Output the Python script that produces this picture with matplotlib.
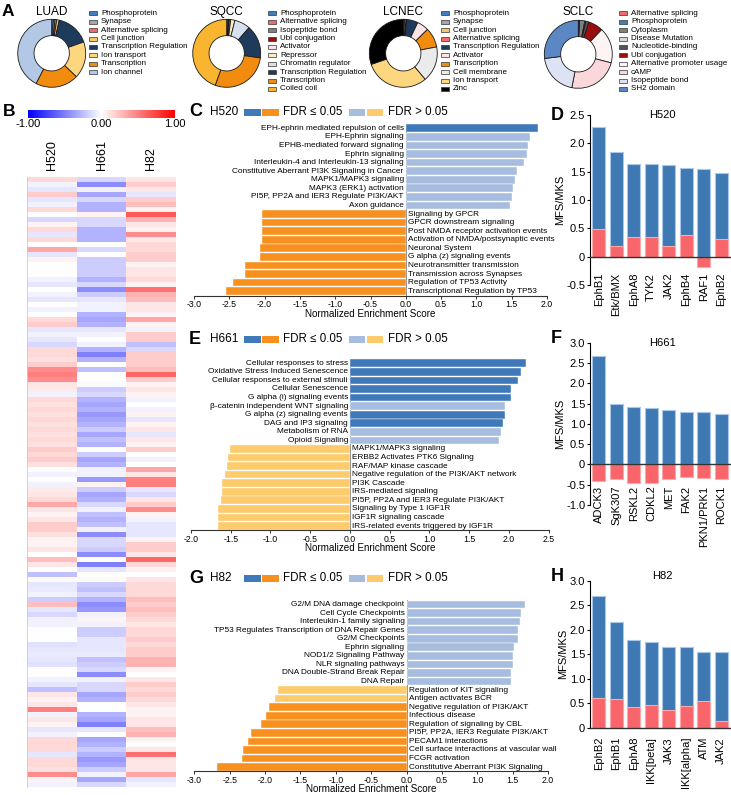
import matplotlib
matplotlib.use('Agg')
import matplotlib.pyplot as plt
import numpy as np
from matplotlib.colors import LinearSegmentedColormap
from matplotlib.patches import Rectangle

plt.rcParams['font.family'] = ['Liberation Sans', 'DejaVu Sans']
plt.rcParams['axes.unicode_minus'] = False

# ---------------- DATA ----------------
luad_labels = ['Phosphoprotein', 'Synapse', 'Alternative splicing', 'Cell junction',
               'Transcription Regulation', 'Ion transport', 'Transcription', 'Ion channel']
luad_values = [0.8, 0.8, 0.8, 1.2, 16.0, 17.5, 20.5, 42.4]
luad_colors = ['#3F7FBF', '#A6A6A6', '#F26B6B', '#F9C56B', '#1F3B5C', '#FCD77F', '#F28C0F', '#B3C8E4']

sqcc_labels = ['Phosphoprotein', 'Alternative splicing', 'Isopeptide bond', 'Ubl conjugation',
               'Activator', 'Repressor', 'Chromatin regulator', 'Transcription Regulation',
               'Transcription', 'Coiled coil']
sqcc_values = [0.3, 0.6, 0.2, 0.2, 0.6, 2.0, 7.5, 15.8, 28.3, 44.5]
sqcc_colors = ['#3F7FBF', '#F26B6B', '#7F7F7F', '#9B0E0E', '#FCE4E4', '#FCEBC5', '#D6E0EF',
               '#1F3B5C', '#F28C0F', '#F9B52F']

lcnec_labels = ['Phosphoprotein', 'Synapse', 'Cell junction', 'Alternative splicing',
                'Transcription Regulation', 'Activator', 'Transcription', 'Cell membrane',
                'Ion transport', 'Zinc']
lcnec_values = [0.3, 0.3, 0.7, 0.3, 5.4, 5.6, 9.4, 16.9, 30.8, 30.3]
lcnec_colors = ['#3F7FBF', '#A6A6A6', '#F9C56B', '#F26B6B', '#1F3B5C', '#FCE4E4', '#F28C0F',
                '#EBEBEB', '#FCD77F', '#000000']

sclc_labels = ['Alternative splicing', 'Phosphoprotein', 'Cytoplasm', 'Disease Mutation',
               'Nucleotide-binding', 'Ubl conjugation', 'Alternative promoter usage', 'cAMP',
               'Isopeptide bond', 'SH2 domain']
sclc_values = [0.3, 0.3, 2.5, 0.5, 1.5, 7.0, 17.0, 24.0, 20.0, 27.0]
sclc_colors = ['#F26B6B', '#3F7FBF', '#7F7F7F', '#D9D9D9', '#555555', '#9B0E0E', '#FFF4F4',
               '#F9D7DA', '#DDE3F4', '#5B87C5']

heat_cols = ['H520', 'H661', 'H82']
h520 = [0.15, -0.05, -0.1, 0.2, -0.1, -0.05, 0.15, 0.0, -0.15, 0.05,
        0.15, -0.1, 0.15, 0.0, 0.35, -0.1, 0.05, 0.0, 0.0, 0.0,
        -0.05, -0.1, 0.0, -0.05, -0.1, 0.0, -0.05, 0.0, 0.15, 0.2,
        -0.1, -0.05, -0.1, -0.15, 0.15, 0.15, 0.12, 0.2, 0.45, 0.5,
        0.45, 0.1, 0.08, -0.05, 0.15, 0.12, 0.15, 0.12, 0.15, 0.12,
        0.15, 0.12, 0.15, 0.12, 0.2, 0.15, 0.2, 0.12, 0.0, -0.05,
        0.0, -0.05, 0.08, 0.1, 0.15, 0.35, 0.1, 0.05, 0.1, 0.2,
        0.2, 0.12, 0.05, 0.05, 0.1, 0.0, 0.25, 0.1, 0.0, -0.25,
        0.02, -0.1, -0.08, -0.05, -0.2, 0.25, -0.1, -0.15, -0.05, -0.05,
        0.0, 0.0, 0.0, -0.12, -0.1, -0.08, -0.1, -0.12, 0.0, 0.0,
        -0.05, -0.1, -0.25, 0.1, 0.05, 0.1, 0.5, -0.05, 0.1, 0.05,
        -0.1, -0.05, 0.15, 0.15, 0.15, -0.1, 0.15, 0.15, 0.12, 0.45,
        0.05, -0.05]
h661 = [-0.15, -0.45, -0.05, -0.35, -0.15, -0.3, -0.3, 0.05, -0.15, -0.15,
        -0.3, -0.3, -0.3, 0.0, -0.15, 0.0, -0.2, -0.2, -0.2, -0.2,
        -0.3, -0.15, -0.45, -0.2, -0.1, -0.05, -0.05, -0.3, -0.35, -0.3,
        -0.1, -0.05, 0.0, -0.05, -0.3, -0.5, -0.3, 0.0, -0.25, 0.0,
        0.0, -0.02, -0.2, -0.15, -0.3, -0.35, -0.3, -0.4, -0.35, -0.3,
        -0.2, -0.35, -0.25, -0.3, 0.0, -0.2, -0.35, -0.3, -0.05, -0.05,
        -0.4, 0.05, -0.2, -0.35, -0.3, -0.15, -0.05, -0.25, -0.3, -0.25,
        -0.05, -0.45, -0.15, -0.15, -0.2, -0.45, 0.0, -0.5, -0.1, 0.0,
        0.02, -0.2, -0.25, -0.15, -0.3, -0.45, -0.4, -0.05, 0.05, -0.05,
        -0.2, -0.2, -0.1, -0.1, -0.1, -0.08, -0.25, -0.2, -0.15, -0.45,
        -0.05, -0.15, -0.15, -0.35, -0.3, 0.0, 0.0, -0.3, -0.35, -0.5,
        -0.1, 0.0, -0.35, -0.3, -0.2, -0.3, -0.4, -0.35, -0.2, -0.05,
        -0.35, -0.15]
h82 = [0.1, 0.2, 0.1, -0.1, 0.2, 0.25, 0.05, 0.65, 0.3, 0.1,
       0.05, 0.45, 0.1, 0.15, 0.15, 0.2, 0.2, 0.05, 0.1, 0.1,
       0.15, 0.05, 0.55, 0.3, 0.25, 0.1, 0.1, 0.05, 0.35, 0.05,
       -0.05, 0.2, 0.2, -0.25, -0.15, 0.2, 0.2, 0.2, 0.25, 0.6,
       0.2, 0.05, 0.1, 0.05, -0.05, 0.0, -0.05, 0.05, -0.1, 0.05,
       0.1, -0.1, 0.1, 0.05, 0.2, 0.0, -0.05, 0.0, 0.35, 0.1,
       0.5, 0.5, -0.1, -0.15, 0.1, 0.2, 0.45, 0.05, -0.05, -0.1,
       -0.1, -0.1, 0.05, 0.2, 0.2, 0.1, 0.6, 0.15, 0.05, 0.0,
       0.1, 0.15, 0.15, 0.15, 0.25, 0.2, 0.25, 0.2, 0.15, 0.1,
       0.15, 0.15, 0.2, 0.15, 0.2, 0.2, 0.3, 0.3, 0.05, 0.0,
       0.1, 0.2, 0.15, 0.2, 0.15, 0.1, 0.05, 0.05, 0.1, 0.1,
       0.25, 0.3, 0.05, 0.0, 0.1, 0.55, 0.1, 0.1, 0.1, 0.35,
       -0.1, -0.05]

c_terms = ['EPH-ephrin mediated repulsion of cells', 'EPH-Ephrin signaling',
           'EPHB-mediated forward signaling', 'Ephrin signaling',
           'Interleukin-4 and Interleukin-13 signaling',
           'Constitutive Aberrant PI3K Signaling in Cancer', 'MAPK1/MAPK3 signaling',
           'MAPK3 (ERK1) activation', 'PI5P, PP2A and IER3 Regulate PI3K/AKT', 'Axon guidance',
           'Signaling by GPCR', 'GPCR downstream signaling', 'Post NMDA receptor activation events',
           'Activation of NMDA/postsynaptic events', 'Neuronal System',
           'G alpha (z) signaling events', 'Neurotransmitter transmission',
           'Transmission across Synapses', 'Regulation of TP53 Activity',
           'Transcriptional Regulation by TP53']
c_nes = [1.87, 1.76, 1.73, 1.72, 1.68, 1.57, 1.55, 1.52, 1.51, 1.47,
         -2.03, -2.03, -2.04, -2.04, -2.07, -2.07, -2.28, -2.28, -2.45, -2.54]
c_sig = [1, 0, 0, 0, 0, 0, 0, 0, 0, 0, 1, 1, 1, 1, 1, 1, 1, 1, 1, 1]

e_terms = ['Cellular responses to stress', 'Oxidative Stress Induced Senescence',
           'Cellular responses to external stimuli', 'Cellular Senescence',
           'G alpha (i) signaling events', 'β-catenin independent WNT signaling',
           'G alpha (z) signaling events', 'DAG and IP3 signaling', 'Metabolism of RNA',
           'Opioid Signaling', 'MAPK1/MAPK3 signaling', 'ERBB2 Activates PTK6 Signaling',
           'RAF/MAP kinase cascade', 'Negative regulation of the PI3K/AKT network',
           'PI3K Cascade', 'IRS-mediated signaling', 'PI5P, PP2A and IER3 Regulate PI3K/AKT',
           'Signaling by Type 1 IGF1R', 'IGF1R signaling cascade',
           'IRS-related events triggered by IGF1R']
e_nes = [2.21, 2.15, 2.11, 2.02, 2.02, 1.95, 1.95, 1.92, 1.90, 1.88,
         -1.51, -1.53, -1.55, -1.57, -1.61, -1.61, -1.62, -1.66, -1.66, -1.66]
e_sig = [1, 1, 1, 1, 1, 0, 1, 1, 0, 0, 0, 0, 0, 0, 0, 0, 0, 0, 0, 0]

g_terms = ['G2/M DNA damage checkpoint', 'Cell Cycle Checkpoints',
           'Interleukin-1 family signaling', 'TP53 Regulates Transcription of DNA Repair Genes',
           'G2/M Checkpoints', 'Ephrin signaling', 'NOD1/2 Signaling Pathway',
           'NLR signaling pathways', 'DNA Double-Strand Break Repair', 'DNA Repair',
           'Regulation of KIT signaling', 'Antigen activates BCR',
           'Negative regulation of PI3K/AKT', 'Infectious disease',
           'Regulation of signaling by CBL', 'PI5P, PP2A, IER3 Regulate PI3K/AKT',
           'PECAM1 interactions', 'Cell surface interactions at vascular wall',
           'FCGR activation', 'Constitutive Aberrant PI3K Signaling']
g_nes = [1.67, 1.62, 1.60, 1.58, 1.57, 1.52, 1.50, 1.50, 1.48, 1.47,
         -1.81, -1.86, -1.94, -1.98, -2.06, -2.20, -2.24, -2.31, -2.33, -2.68]
g_sig = [0, 0, 0, 0, 0, 0, 0, 0, 0, 0, 0, 0, 1, 1, 1, 1, 1, 1, 1, 1]

d_kinases = ['EphB1', 'Etk/BMX', 'EphA8', 'TYK2', 'JAK2', 'EphB4', 'RAF1', 'EphB2']
d_mfs = [2.28, 1.84, 1.63, 1.63, 1.61, 1.57, 1.54, 1.47]
d_mks = [0.49, 0.19, 0.35, 0.35, 0.19, 0.38, -0.19, 0.32]

f_kinases = ['ADCK3', 'SgK307', 'RSKL2', 'CDKL2', 'MET', 'FAK2', 'PKN1/PRK1', 'ROCK1']
f_mfs = [2.67, 1.48, 1.42, 1.39, 1.35, 1.29, 1.28, 1.24]
f_mks = [-0.42, -0.35, -0.46, -0.45, -0.35, -0.32, -0.34, -0.36]

h_kinases = ['EphB2', 'EphB1', 'EphA8', 'IKK[beta]', 'JAK3', 'IKK[alpha]', 'ATM', 'JAK2']
h_mfs = [2.69, 2.15, 1.79, 1.75, 1.64, 1.64, 1.55, 1.54]
h_mks = [0.62, 0.59, 0.42, 0.47, 0.36, 0.45, 0.54, 0.15]

# ---------------- LAYOUT ----------------
W, H = 731, 795
fig = plt.figure(figsize=(W / 100, H / 100), dpi=100)


def fx(x):
    return x / W


def fy(y):
    return 1 - y / H


def add_ax(x0, y0, x1, y1):
    return fig.add_axes([x0 / W, 1 - y1 / H, (x1 - x0) / W, (y1 - y0) / H])


def letter(x, y, s, size=13):
    fig.text(fx(x), fy(y), s, fontsize=size, fontweight='bold', ha='left', va='center')


# ---------------- Panel A: donuts ----------------
def donut(cx, cy, r, title, labels, values, colors, legend_x):
    ax = add_ax(cx - r, cy - r, cx + r, cy + r)
    ax.pie(values, colors=colors, startangle=90, counterclock=False, radius=1.0,
           wedgeprops=dict(width=0.48, edgecolor='#1a1a1a', linewidth=0.6))
    ax.set_xlim(-1.03, 1.03)
    ax.set_ylim(-1.03, 1.03)
    fig.text(fx(cx), fy(12), title, ha='center', va='center', fontsize=8.5)
    for i, (lab, col) in enumerate(zip(labels, colors)):
        yy = 13.3 + 8.4 * i
        fig.add_artist(Rectangle((fx(legend_x), fy(yy + 2)), 8 / W, 4 / H,
                                 transform=fig.transFigure, facecolor=col,
                                 edgecolor='#333333', lw=0.5))
        fig.text(fx(legend_x + 12), fy(yy), lab, ha='left', va='center', fontsize=5.8)


letter(2, 11, 'A', 12.5)
donut(51.7, 53.3, 35, 'LUAD', luad_labels, luad_values, luad_colors, 89)
donut(226.7, 53.3, 35, 'SQCC', sqcc_labels, sqcc_values, sqcc_colors, 268)
donut(403.3, 53.3, 35, 'LCNEC', lcnec_labels, lcnec_values, lcnec_colors, 441)
donut(578.3, 54.3, 35, 'SCLC', sclc_labels, sclc_values, sclc_colors, 619)

# ---------------- Panel B: heatmap ----------------
cmap = LinearSegmentedColormap.from_list('bwr_custom', ['#0000FF', '#FFFFFF', '#FF0000'])
letter(3, 112, 'B', 12.5)
cax = add_ax(28, 110, 175, 118)
grad = np.linspace(-1, 1, 256).reshape(1, -1)
cax.imshow(grad, cmap=cmap, aspect='auto', extent=[-1, 1, 0, 1])
cax.set_xticks([-1, 0, 1])
cax.set_xticklabels(['-1.00', '0.00', '1.00'], fontsize=8)
cax.set_yticks([])
cax.tick_params(axis='x', length=0, pad=1)
for s in cax.spines.values():
    s.set_visible(False)

hx0, hx1 = 27, 176
for j, name in enumerate(heat_cols):
    cxp = hx0 + (hx1 - hx0) * (j + 0.5) / 3
    fig.text(fx(cxp), fy(170), name, rotation=90, ha='center', va='bottom', fontsize=9)

hax = add_ax(hx0, 177, hx1, 787)
mat = np.array([h520, h661, h82]).T
hax.imshow(mat, cmap=cmap, vmin=-1, vmax=1, aspect='auto', interpolation='nearest')
hax.set_xticks([])
hax.set_yticks([])
for k, s in hax.spines.items():
    s.set_visible(k == 'left')
hax.spines['left'].set_color('#cccccc')
hax.spines['left'].set_linewidth(0.6)

# ---------------- GSEA panels ----------------
DARK_BLUE = '#4079BA'
LIGHT_BLUE = '#A7BDDF'
ORANGE = '#F7901E'
LIGHT_ORANGE = '#FDCA6C'


def gsea_header(yc, let, cell):
    letter(189, yc, let, 13)
    fig.text(fx(210), fy(yc), cell, fontsize=8.5, ha='left', va='center')
    for (x0, x1, c) in [(244, 261, DARK_BLUE), (262, 279, ORANGE),
                        (349, 365, LIGHT_BLUE), (367, 383, LIGHT_ORANGE)]:
        fig.add_artist(Rectangle((fx(x0), fy(yc + 3.5)), (x1 - x0) / W, 7 / H,
                                 transform=fig.transFigure, facecolor=c, edgecolor='none'))
    fig.text(fx(283), fy(yc), 'FDR ≤ 0.05', fontsize=8.3, ha='left', va='center')
    fig.text(fx(388), fy(yc), 'FDR > 0.05', fontsize=8.3, ha='left', va='center')


def gsea(ax, terms, nes, sig, xmin, xmax):
    n = len(nes)
    y = np.arange(n)
    cols = []
    for v, s in zip(nes, sig):
        if v > 0:
            cols.append(DARK_BLUE if s else LIGHT_BLUE)
        else:
            cols.append(ORANGE if s else LIGHT_ORANGE)
    ax.barh(y, nes, height=0.9, color=cols, edgecolor='white', linewidth=0.3, zorder=2)
    ax.set_ylim(n - 0.5, -0.5)
    ax.set_xlim(xmin, xmax)
    for yi, v, t in zip(y, nes, terms):
        if v > 0:
            ax.annotate(t, (0, yi), xytext=(-1.5, 0), textcoords='offset points',
                        ha='right', va='center', fontsize=5.95, zorder=3)
        else:
            ax.annotate(t, (0, yi), xytext=(1.5, 0), textcoords='offset points',
                        ha='left', va='center', fontsize=5.95, zorder=3)
    ax.spines['top'].set_visible(False)
    ax.spines['right'].set_visible(False)
    ax.spines['left'].set_position(('data', 0))
    ax.spines['left'].set_color('#666666')
    ax.spines['left'].set_linewidth(0.6)
    ax.spines['left'].set_zorder(1)
    ax.spines['bottom'].set_linewidth(0.8)
    ax.spines['bottom'].set_color('#333333')
    ax.tick_params(axis='y', left=False, labelleft=False)
    ticks = np.arange(xmin, xmax + 0.001, 0.5)
    ax.set_xticks(ticks)
    ax.set_xticklabels(['%.1f' % t for t in ticks], fontsize=6.3)
    ax.tick_params(axis='x', length=2.5, width=0.7, pad=1, color='#333333')
    ax.set_xlabel('Normalized Enrichment Score', fontsize=7.1, labelpad=-0.5)
    ax.patch.set_alpha(0)


gsea_header(112, 'C', 'H520')
axc = add_ax(194, 124, 547, 295.5)
gsea(axc, c_terms, c_nes, c_sig, -3.0, 2.0)

gsea_header(339.3, 'E', 'H661')
axe = add_ax(191, 359, 548.7, 530.3)
gsea(axe, e_terms, e_nes, e_sig, -2.0, 2.5)

gsea_header(578.3, 'G', 'H82')
axg = add_ax(194.3, 600.2, 548, 771.3)
gsea(axg, g_terms, g_nes, g_sig, -3.0, 2.0)

# ---------------- Kinase panels ----------------
BAR_BLUE = '#3F79B4'
BAR_RED = '#F8666B'


def kin(ax, names, mfs, mks, ylo, yhi, title, label_pad_px, title_y=1.0):
    x = np.arange(len(names))
    ax.bar(x, mfs, width=0.76, color=BAR_BLUE, edgecolor='#A9C7E8', linewidth=0.8, zorder=2)
    ax.bar(x, mks, width=0.76, color=BAR_RED, edgecolor='#FBA9AB', linewidth=0.8, zorder=3)
    ax.set_xlim(-0.5, 7.5)
    ax.set_ylim(ylo, yhi)
    ticks = np.arange(ylo, yhi + 0.001, 0.5)
    ax.set_yticks(ticks)
    ax.set_yticklabels(['0' if abs(t) < 1e-9 else '%.1f' % t for t in ticks], fontsize=8)
    ax.tick_params(axis='y', length=2.5, width=0.8, pad=1)
    ax.spines['top'].set_visible(False)
    ax.spines['right'].set_visible(False)
    ax.spines['bottom'].set_position(('data', 0))
    ax.spines['bottom'].set_linewidth(1.0)
    ax.spines['bottom'].set_color('#333333')
    ax.spines['bottom'].set_zorder(4)
    ax.spines['left'].set_linewidth(0.8)
    ax.set_xticks(x)
    ax.set_xticklabels(names, rotation=90, fontsize=8)
    ax.tick_params(axis='x', length=0, pad=label_pad_px * 0.72)
    ax.set_ylabel('MFS/MKS', fontsize=8, labelpad=1)
    ax.text(0.52, title_y, title, transform=ax.transAxes, ha='center', va='center', fontsize=8)
    ax.patch.set_alpha(0)


letter(551, 116, 'D', 13)
axd = add_ax(590, 115, 730, 285)
kin(axd, d_kinases, d_mfs, d_mks, -0.5, 2.5, 'H520', 16)

letter(551, 338.5, 'F', 13)
axf = add_ax(590, 342.7, 730, 505)
kin(axf, f_kinases, f_mfs, f_mks, -1.0, 3.0, 'H661', 21)

letter(551, 576.5, 'H', 13)
axh = add_ax(590, 580.7, 730, 728)
kin(axh, h_kinases, h_mfs, h_mks, 0.0, 3.0, 'H82', 9, title_y=1.03)

fig.savefig('out.png', dpi=100)
